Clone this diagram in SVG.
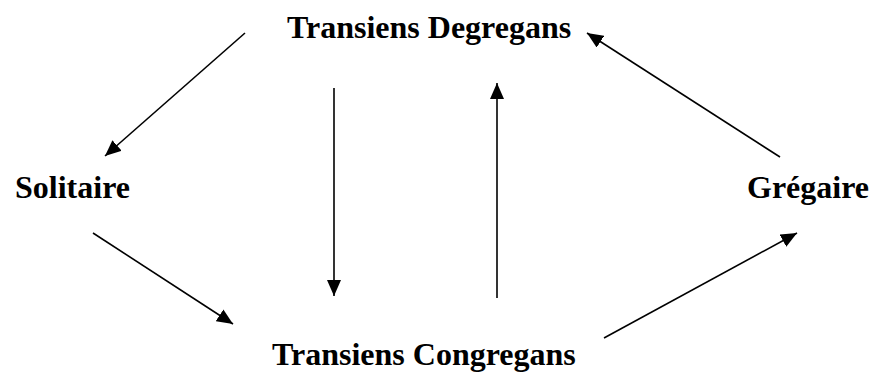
<svg xmlns="http://www.w3.org/2000/svg" width="872" height="374" viewBox="0 0 872 374">
<style>
.lbl{font-family:"Liberation Serif","Times New Roman",serif;font-weight:bold;font-size:32px;fill:#000}
.edge{stroke:#000;stroke-width:1.6;fill:none;marker-end:url(#ah)}
</style>
<defs>
<marker id="ah" markerUnits="userSpaceOnUse" markerWidth="16" markerHeight="14" refX="16" refY="7" orient="auto">
<path d="M0,0 L16,7 L0,14 z" fill="#000"/>
</marker>
</defs>
<rect width="872" height="374" fill="#fff"/>
<g id="degregans"><text class="lbl" x="287" y="38">Transiens Degregans</text></g>
<g id="solitaire"><text class="lbl" x="15" y="198">Solitaire</text></g>
<g id="gregaire"><text class="lbl" x="747" y="198">Grégaire</text></g>
<g id="congregans"><text class="lbl" x="272" y="365">Transiens Congregans</text></g>
<g id="connectors">
<line class="edge" x1="245" y1="33" x2="105" y2="156"/>
<line class="edge" x1="334" y1="88" x2="334" y2="296"/>
<line class="edge" x1="497" y1="298" x2="497" y2="83"/>
<line class="edge" x1="780" y1="157" x2="587" y2="33"/>
<line class="edge" x1="93" y1="233" x2="233" y2="324"/>
<line class="edge" x1="604" y1="338" x2="797" y2="233"/>
</g>
</svg>
